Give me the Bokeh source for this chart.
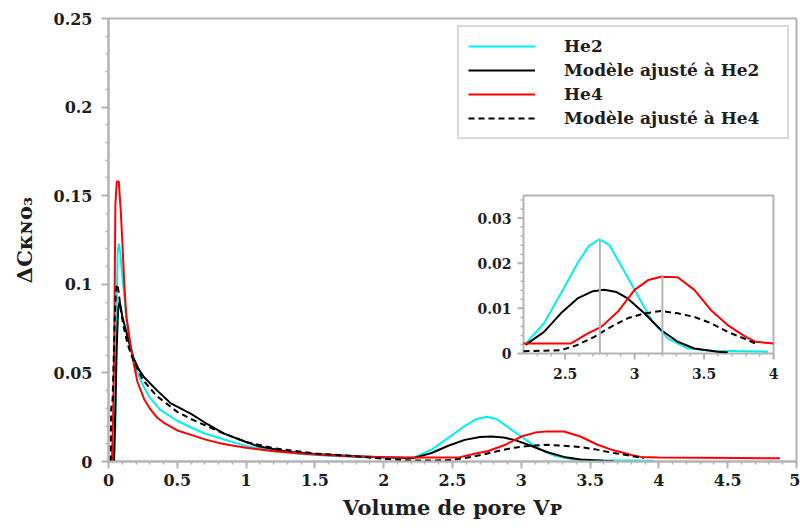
import numpy as np
from bokeh.plotting import figure
from bokeh.models import Range1d, FixedTicker, Legend, LegendItem
from bokeh.embed import file_html
from bokeh.resources import INLINE
from bokeh.core.properties import value

# ---------------- data ----------------
he2_x = [0.040, 0.050, 0.058, 0.066, 0.075, 0.085, 0.100, 0.110, 0.130, 0.150,
         0.170, 0.200, 0.257, 0.300, 0.378, 0.500, 0.600, 0.700, 0.840, 1.000,
         1.200, 1.400, 1.600, 1.800, 2.000, 2.215, 2.348, 2.469, 2.589, 2.670,
         2.746, 2.820, 2.879, 3.000, 3.120, 3.240, 3.385, 3.554, 3.795, 3.960]
he2_y = [0.000, 0.020, 0.080, 0.118, 0.123, 0.118, 0.105, 0.097, 0.080, 0.069,
         0.062, 0.052, 0.042, 0.036, 0.029, 0.023, 0.0192, 0.0158, 0.0124, 0.0088,
         0.0060, 0.0042, 0.0032, 0.0026, 0.0022, 0.0022, 0.0067, 0.0133, 0.0200, 0.0238,
         0.0253, 0.0240, 0.0207, 0.0141, 0.0074, 0.0033, 0.0011, 0.0006, 0.0005, 0.0004]

fit2_x = [0.040, 0.050, 0.060, 0.070, 0.080, 0.090, 0.100, 0.130, 0.160, 0.184,
          0.220, 0.257, 0.354, 0.450, 0.597, 0.700, 0.840, 1.000, 1.080, 1.300,
          1.500, 1.800, 2.000, 2.215, 2.348, 2.469, 2.589, 2.700, 2.782, 2.870,
          2.950, 3.070, 3.190, 3.310, 3.430, 3.600, 3.670]
fit2_y = [0.000, 0.030, 0.065, 0.086, 0.090, 0.087, 0.082, 0.073, 0.064, 0.058,
          0.052, 0.0477, 0.040, 0.033, 0.027, 0.022, 0.0157, 0.0110, 0.0088, 0.0055,
          0.0042, 0.0030, 0.0024, 0.0019, 0.0048, 0.0089, 0.0122, 0.0138, 0.0141, 0.0136,
          0.0122, 0.0089, 0.0052, 0.0026, 0.0011, 0.0004, 0.0003]

he4_x = [0.025, 0.035, 0.042, 0.050, 0.060, 0.075, 0.090, 0.100, 0.115, 0.130,
         0.160, 0.184, 0.210, 0.260, 0.300, 0.350, 0.400, 0.500, 0.600, 0.700,
         0.800, 0.900, 1.000, 1.200, 1.400, 1.600, 1.800, 2.000, 2.200, 2.540,
         2.660, 2.760, 2.880, 3.000, 3.100, 3.190, 3.310, 3.430, 3.550, 3.670,
         3.800, 3.870, 4.000, 4.300, 4.600, 4.880]
he4_y = [0.000, 0.030, 0.070, 0.145, 0.158, 0.158, 0.140, 0.125, 0.100, 0.082,
         0.066, 0.055, 0.045, 0.035, 0.030, 0.025, 0.022, 0.0175, 0.0150, 0.0125,
         0.0105, 0.0090, 0.0078, 0.0058, 0.0045, 0.0035, 0.0028, 0.0024, 0.0022, 0.0022,
         0.0044, 0.0059, 0.0093, 0.0141, 0.0163, 0.0170, 0.0169, 0.0141, 0.0096, 0.0063,
         0.0037, 0.0026, 0.0022, 0.0021, 0.0020, 0.0018]

fit4_x = [0.015, 0.020, 0.030, 0.045, 0.055, 0.065, 0.075, 0.090, 0.110, 0.140,
          0.180, 0.250, 0.350, 0.500, 0.600, 0.800, 1.000, 1.200, 1.500, 1.800,
          2.000, 2.200, 2.469, 2.589, 2.710, 2.830, 2.950, 3.070, 3.190, 3.310,
          3.430, 3.550, 3.670, 3.790, 3.890]
fit4_y = [0.000, 0.030, 0.035, 0.080, 0.098, 0.100, 0.095, 0.085, 0.076, 0.066,
          0.057, 0.046, 0.037, 0.028, 0.024, 0.017, 0.011, 0.0075, 0.0045, 0.0030,
          0.0015, 0.0005, 0.0007, 0.0019, 0.0037, 0.0059, 0.0078, 0.0089, 0.0094, 0.0089,
          0.0081, 0.0067, 0.0048, 0.0033, 0.0019]

series_labels = ["He2", "Modèle ajusté à He2", "He4", "Modèle ajusté à He4"]

x_ticks = [0, 0.5, 1, 1.5, 2, 2.5, 3, 3.5, 4, 4.5, 5]
x_tick_labels = ["0", "0.5", "1", "1.5", "2", "2.5", "3", "3.5", "4", "4.5", "5"]
y_ticks = [0, 0.05, 0.1, 0.15, 0.2, 0.25]
y_tick_labels = ["0", "0.05", "0.1", "0.15", "0.2", "0.25"]

inset_xlim = (2.2, 4.0)
inset_ylim = (0.0, 0.035)
inset_x_ticks = [2.5, 3.0, 3.5, 4.0]
inset_x_tick_labels = ["2.5", "3", "3.5", "4"]
inset_y_ticks = [0.0, 0.01, 0.02, 0.03]
inset_y_tick_labels = ["0", "0.01", "0.02", "0.03"]
peak_x = [2.75, 3.20]
peak_y = [0.0253, 0.0174]

x_title = "Volume de pore Vᴘ"
y_title = "ΔCᴋɴᴏ₃"

# ---------------- styling ----------------
FONT = "DejaVu Serif"
GREY = "#b4b4b4"
TXT = "#1e1e1e"
CYAN = "#00f0f0"
RED = "#ff0000"

# frame position in picture pixels
FL, FR, FT, FB = 108, 796, 18, 461
W, H = 800, 528
# inset frame in picture pixels
IL, IR, IT, IB = 523, 773, 195, 353

p = figure(frame_width=FR - FL, frame_height=FB - FT,
           min_border_left=FL, min_border_right=W - FR,
           min_border_top=FT, min_border_bottom=H - FB,
           x_range=Range1d(0, 5), y_range=Range1d(0, 0.25),
           output_backend="svg", toolbar_location=None)
p.xgrid.visible = False
p.ygrid.visible = False
p.outline_line_color = GREY
p.outline_line_width = 2
p.background_fill_color = "white"
p.border_fill_color = "white"

for ax in (p.xaxis[0], p.yaxis[0]):
    ax.axis_line_color = GREY
    ax.axis_line_width = 2
    ax.major_tick_line_color = GREY
    ax.major_tick_line_width = 2
    ax.minor_tick_line_color = GREY
    ax.minor_tick_line_width = 1.5
    ax.major_tick_out = 7
    ax.major_tick_in = 0
    ax.minor_tick_out = 3
    ax.minor_tick_in = 0
    ax.major_label_text_font = FONT
    ax.major_label_text_font_style = "bold"
    ax.major_label_text_font_size = "16px"
    ax.major_label_text_color = TXT
    ax.axis_label_text_font = FONT
    ax.axis_label_text_font_style = "bold"
    ax.axis_label_text_font_size = "21px"
    ax.axis_label_text_color = TXT

p.xaxis.ticker = FixedTicker(ticks=x_ticks,
                             minor_ticks=[round(v, 2) for v in np.arange(0, 5.001, 0.1)])
p.yaxis.ticker = FixedTicker(ticks=y_ticks,
                             minor_ticks=[round(v, 3) for v in np.arange(0, 0.2501, 0.01)])
p.xaxis.major_label_overrides = dict(zip(x_ticks, x_tick_labels))
p.yaxis.major_label_overrides = dict(zip(y_ticks, y_tick_labels))
p.xaxis.major_label_standoff = 5
p.yaxis.major_label_standoff = 9
p.xaxis.axis_label = x_title
p.yaxis.axis_label = y_title
p.xaxis.axis_label_standoff = 6
p.yaxis.axis_label_standoff = 14

# main curves
r1 = p.line(he2_x, he2_y, line_color=CYAN, line_width=2)
r2 = p.line(fit2_x, fit2_y, line_color="black", line_width=2)
r3 = p.line(he4_x, he4_y, line_color=RED, line_width=2)
r4 = p.line(fit4_x, fit4_y, line_color="black", line_width=2, line_dash="6 4")

legend = Legend(items=[LegendItem(label=series_labels[i], renderers=[r])
                       for i, r in enumerate([r1, r2, r3, r4])],
                location="top_right", margin=7, padding=9, spacing=4,
                glyph_width=67, glyph_height=20, label_height=20,
                label_width=214, label_standoff=29,
                label_text_font=FONT, label_text_font_style="bold",
                label_text_font_size="17px", label_text_color=TXT,
                border_line_color=GREY, border_line_width=2,
                background_fill_color="white", background_fill_alpha=1.0)
p.add_layout(legend)

# ---------------- inset (own ranges mapped onto the inset box) ----------------
ux = (inset_xlim[1] - inset_xlim[0]) / (IR - IL)
uy = (inset_ylim[1] - inset_ylim[0]) / (IB - IT)
p.extra_x_ranges = {"ix": Range1d(inset_xlim[0] - (IL - FL) * ux, inset_xlim[1] + (FR - IR) * ux)}
p.extra_y_ranges = {"iy": Range1d(inset_ylim[0] - (FB - IB) * uy, inset_ylim[1] + (IT - FT) * uy)}
kw = dict(x_range_name="ix", y_range_name="iy")

p.quad(left=[inset_xlim[0]], right=[inset_xlim[1]], bottom=[inset_ylim[0]], top=[inset_ylim[1]],
       fill_color="white", line_color=GREY, line_width=2, **kw)


def sub(xs, ys):
    xs = np.asarray(xs)
    ys = np.asarray(ys)
    m = (xs >= inset_xlim[0]) & (xs <= inset_xlim[1])
    return xs[m], ys[m]


for xs, ys, col, dash in [(he2_x, he2_y, CYAN, "solid"), (fit2_x, fit2_y, "black", "solid"),
                          (he4_x, he4_y, RED, "solid"), (fit4_x, fit4_y, "black", "6 4")]:
    sx, sy = sub(xs, ys)
    p.line(sx, sy, line_color=col, line_width=2, line_dash=dash, **kw)

# peak markers
p.segment(x0=peak_x, y0=[inset_ylim[0]] * len(peak_x), x1=peak_x, y1=peak_y,
          line_color=GREY, line_width=2, **kw)

# inset ticks
iy_minor = [round(v, 4) for v in np.arange(inset_ylim[0], inset_ylim[1] + 1e-9, 0.002)]
p.segment(x0=[inset_xlim[0]] * len(iy_minor), y0=iy_minor,
          x1=[inset_xlim[0] - 3 * ux] * len(iy_minor), y1=iy_minor,
          line_color=GREY, line_width=1.5, **kw)
p.segment(x0=[inset_xlim[0]] * len(inset_y_ticks), y0=inset_y_ticks,
          x1=[inset_xlim[0] - 6 * ux] * len(inset_y_ticks), y1=inset_y_ticks,
          line_color=GREY, line_width=2, **kw)
ix_minor = [round(v, 2) for v in np.arange(2.3, inset_xlim[1] + 1e-9, 0.1)]
p.segment(x0=ix_minor, y0=[inset_ylim[0]] * len(ix_minor),
          x1=ix_minor, y1=[inset_ylim[0] - 3 * uy] * len(ix_minor),
          line_color=GREY, line_width=1.5, **kw)
p.segment(x0=inset_x_ticks, y0=[inset_ylim[0]] * len(inset_x_ticks),
          x1=inset_x_ticks, y1=[inset_ylim[0] - 6 * uy] * len(inset_x_ticks),
          line_color=GREY, line_width=2, **kw)

p.text(x=[inset_xlim[0]] * len(inset_y_ticks), y=inset_y_ticks, text=inset_y_tick_labels,
       x_offset=-12, text_align="right", text_baseline="middle",
       text_font=value(FONT), text_font_style="bold", text_font_size="14px",
       text_color=TXT, **kw)
p.text(x=inset_x_ticks, y=[inset_ylim[0]] * len(inset_x_ticks), text=inset_x_tick_labels,
       y_offset=20, text_align="center", text_baseline="middle",
       text_font=value(FONT), text_font_style="bold", text_font_size="14px",
       text_color=TXT, **kw)

open("out.html", "w").write(file_html(p, INLINE))
